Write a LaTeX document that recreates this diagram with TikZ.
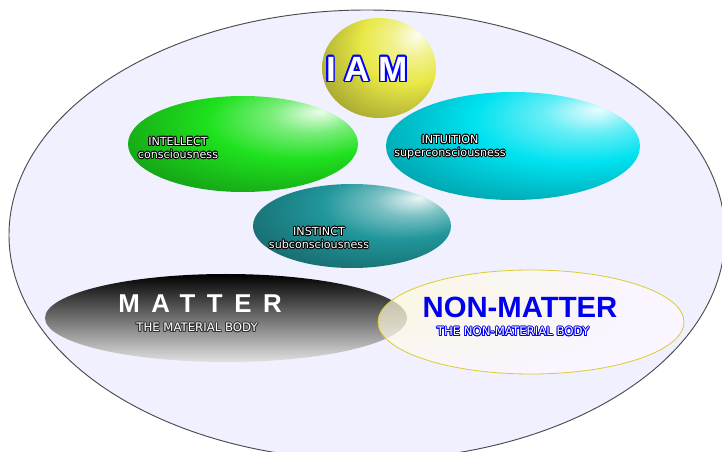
\documentclass[tikz,border=0pt]{standalone}
\usepackage{fontspec}
\setmainfont{Liberation Sans}
\newfontfamily\labelfont{DejaVu Sans}
\newfontfamily\iamfont[LetterSpace=25]{Liberation Sans}
\newfontfamily\matterfont[LetterSpace=45]{Liberation Sans}
\usepackage{contour}
\contourlength{0.75pt}
\contournumber{12}
\usetikzlibrary{shapes.geometric,positioning}

\definecolor{selffill}{RGB}{240,240,255}
\definecolor{iamyellow}{RGB}{232,232,70}
\definecolor{intellectgreen}{RGB}{30,225,30}
\definecolor{intuitioncyan}{RGB}{0,226,240}
\definecolor{instinctteal}{RGB}{32,150,155}
\definecolor{nonmatterblue}{RGB}{0,0,238}
\definecolor{rimyellow}{RGB}{220,205,50}
\definecolor{glowc}{RGB}{255,250,212}
\definecolor{pinkc}{RGB}{255,248,255}
\colorlet{ballc}{green}

\pgfdeclareradialshading[ballc]{orbshade}{\pgfqpoint{17bp}{17bp}}{%
  color(0bp)=(ballc!8!white); color(9bp)=(ballc!60!white);
  color(20bp)=(ballc); color(42bp)=(ballc!65!black);
  color(70bp)=(ballc!35!black)}
\pgfdeclareradialshading{glow}{\pgfqpoint{-28bp}{12bp}}{%
  color(0bp)=(glowc); color(18bp)=(glowc!50!pinkc);
  color(35bp)=(pinkc); color(100bp)=(pinkc)}

\tikzset{
  orbcol/.code={\colorlet{ballc}{#1}},
  orb/.style={ellipse, inner sep=0pt, orbcol=#1, shading=orbshade},
  mindlabel/.style={font=\labelfont\fontsize{9.5}{11}\selectfont, text=white,
    inner sep=0pt, align=center},
  bodylabel/.style={font=\labelfont\fontsize{10}{12}\selectfont, text=white,
    inner sep=0pt}
}

\begin{document}
\begin{tikzpicture}[x=0.03cm,y=-0.03cm]
\useasboundingbox (0,0) rectangle (722,452);
\clip (0,0) rectangle (722,452);
\fill[white] (0,0) rectangle (722,452);

% the whole self
\node[ellipse, draw=black!70, line width=0.8pt, fill=selffill, inner sep=0pt,
  minimum width=21.48cm, minimum height=13.5cm] (self) at (367,235) {};

% the four spheres
\node[orb=iamyellow, minimum width=3.42cm, minimum height=3cm] (iam) at (379,68) {};
\node[orb=intellectgreen, minimum width=6.9cm, minimum height=2.88cm] (intellect) at (243,144) {};
\node[orb=intuitioncyan, minimum width=7.62cm, minimum height=3.24cm] (intuition) at (513,146) {};
\node[orb=instinctteal, minimum width=5.94cm, minimum height=2.52cm] (instinct) at (352,226) {};

% the two bodies
\node[ellipse, inner sep=0pt, top color=black, bottom color=black!12,
  minimum width=10.86cm, minimum height=2.64cm] (matter) at (226,318) {};
\node[ellipse, inner sep=0pt, shading=glow, fill opacity=0.7, draw=rimyellow,
  draw opacity=1, line width=0.7pt,
  minimum width=9.18cm, minimum height=3.12cm] (nonmatter) at (531,322) {};

% labels
\node[font=\iamfont\fontsize{30}{30}\selectfont\bfseries, text=white, inner sep=0pt]
  (iam text) at (367,70) {\contourlength{1.4pt}\contour{blue}{IAM}};
\node[mindlabel] (intellect text) at (178,148.5)
  {\contour{black}{INTELLECT}\\\contour{black}{consciousness}};
\node[mindlabel] (intuition text) at (450,147.5)
  {\contour{black}{INTUITION}\\\contour{black}{superconsciousness}};
\node[mindlabel] (instinct text) at (319,238.5)
  {\contour{black}{INSTINCT}\\\contour{black}{subconsciousness}};

\node[font=\matterfont\fontsize{22}{22}\selectfont\bfseries, text=white, inner sep=0pt]
  (matter text) at (200,304) {MATTER};
\node[bodylabel] (matter sub) at (197,328) {\contour{black!80}{THE MATERIAL BODY}};
\node[font=\fontsize{25}{25}\selectfont\bfseries, text=nonmatterblue, inner sep=0pt]
  (nonmatter text) at (520,307) {NON-MATTER};
\node[bodylabel] (nonmatter sub) at (513,332) {\contour{nonmatterblue}{THE NON-MATERIAL BODY}};
\end{tikzpicture}
\end{document}
